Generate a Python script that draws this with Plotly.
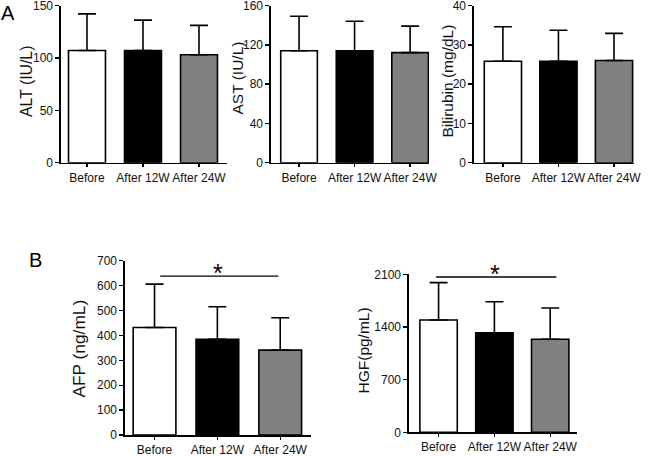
import plotly.graph_objects as go

FONT = "Liberation Sans, Arial, Helvetica, sans-serif"

categories = ["Before", "After 12W", "After 24W"]
bar_colors = ["#ffffff", "#000000", "#808080"]

alt_mean = [107, 107, 103]
alt_sd = [35, 29, 28]
ast_mean = [114, 114, 112]
ast_sd = [35, 30, 27]
bili_mean = [25.8, 25.8, 26.0]
bili_sd = [8.8, 7.9, 6.9]
afp_mean = [432, 384, 341]
afp_sd = [174, 131, 130]
hgf_mean = [1493, 1324, 1236]
hgf_sd = [496, 412, 416]

alt_ticks = [0, 50, 100, 150]
ast_ticks = [0, 40, 80, 120, 160]
bili_ticks = [0, 10, 20, 30, 40]
afp_ticks = [0, 100, 200, 300, 400, 500, 600, 700]
hgf_ticks = [0, 700, 1400, 2100]

# significance brackets: (x start, x end, y level)
afp_sig = (0.09, 1.97, 638)
hgf_sig = (-0.045, 2.11, 2064)

W, H = 650, 456


def px_x(a, b):
    return [a / W, b / W]


def px_y(bottom, top):
    return [1 - bottom / H, 1 - top / H]


panels = [
    dict(mean=alt_mean, sd=alt_sd, ticks=alt_ticks, title="ALT (IU/L)",
         xd=px_x(61, 227), yd=px_y(162.7, 5.5), xr=[-0.464, 2.5], bw=0.66,
         tx=26.5, ty=81.5, tsize=15.8),
    dict(mean=ast_mean, sd=ast_sd, ticks=ast_ticks, title="AST (IU/L)",
         xd=px_x(271, 429), yd=px_y(162.7, 5.5), xr=[-0.505, 2.34], bw=0.66,
         tx=237, ty=78.5, tsize=15.5),
    dict(mean=bili_mean, sd=bili_sd, ticks=bili_ticks, title="Bilirubin (mg/dL)",
         xd=px_x(474, 634), yd=px_y(162.7, 5.5), xr=[-0.52, 2.36], bw=0.67,
         tx=447, ty=81.5, tsize=15.5),
    dict(mean=afp_mean, sd=afp_sd, ticks=afp_ticks, title="AFP (ng/mL)",
         xd=px_x(125, 311), yd=px_y(435, 260.7), xr=[-0.47, 2.49], bw=0.68,
         tx=78.5, ty=349, tsize=17.3),
    dict(mean=hgf_mean, sd=hgf_sd, ticks=hgf_ticks, title="HGF(pg/mL)",
         xd=px_x(409, 577), yd=px_y(432.3, 274.3), xr=[-0.53, 2.48], bw=0.67,
         tx=363, ty=350.5, tsize=15.5),
]

fig = go.Figure()
annotations = []
shapes = []
xs = list(range(len(categories)))

for i, p in enumerate(panels):
    n = "" if i == 0 else str(i + 1)
    fig.add_trace(go.Bar(
        x=xs, y=p["mean"], width=p["bw"],
        marker=dict(color=bar_colors, line=dict(color="#000000", width=1.6)),
        error_y=dict(type="data", symmetric=False, array=p["sd"],
                     arrayminus=[0] * len(p["sd"]), color="#000000",
                     thickness=1.6, width=9),
        xaxis="x" + n, yaxis="y" + n, showlegend=False, hoverinfo="skip",
    ))
    common_axis = dict(showline=True, linecolor="#000000", linewidth=1.6,
                       showgrid=False, zeroline=False, ticks="outside",
                       tickcolor="#000000", tickwidth=1.4, automargin=False,
                       fixedrange=True, ticklabeloverflow="allow",
                       tickfont=dict(family=FONT, size=12, color="#111111"))
    fig.update_layout(**{
        "xaxis" + n: dict(domain=p["xd"], range=p["xr"], anchor="y" + n,
                          tickvals=xs, ticktext=categories, ticklen=3,
                          tickangle=0, **common_axis),
        "yaxis" + n: dict(domain=p["yd"], range=[0, p["ticks"][-1]],
                          anchor="x" + n, tickvals=p["ticks"], ticklen=4,
                          **common_axis),
    })
    annotations.append(dict(text=p["title"], x=p["tx"] / W, y=1 - p["ty"] / H,
                            xref="paper", yref="paper", textangle=-90,
                            showarrow=False, xanchor="center", yanchor="middle",
                            font=dict(family=FONT, size=p["tsize"], color="#111111")))

for sig, n in [(afp_sig, "4"), (hgf_sig, "5")]:
    x0, x1, yv = sig
    shapes.append(dict(type="line", xref="x" + n, yref="y" + n, x0=x0, x1=x1,
                       y0=yv, y1=yv, line=dict(color="#000000", width=1.4)))
    annotations.append(dict(text="*", x=(x0 + x1) / 2 - 0.02, y=yv, xref="x" + n,
                            yref="y" + n, showarrow=False, yanchor="middle",
                            yshift=3,
                            font=dict(family=FONT, size=25, color="#000000")))

annotations.append(dict(text="A", x=8 / W, y=1 - 12.5 / H, xref="paper", yref="paper",
                        showarrow=False, xanchor="center", yanchor="middle",
                        font=dict(family=FONT, size=20, color="#000000")))
annotations.append(dict(text="B", x=35 / W, y=1 - 259.5 / H, xref="paper", yref="paper",
                        showarrow=False, xanchor="center", yanchor="middle",
                        font=dict(family=FONT, size=20, color="#000000")))

fig.update_layout(width=W, height=H, margin=dict(l=0, r=0, t=0, b=0, autoexpand=False),
                  template="none",
                  paper_bgcolor="#ffffff", plot_bgcolor="#ffffff",
                  annotations=annotations, shapes=shapes, bargap=0)

fig.write_html("out.html", config={"displayModeBar": False, "staticPlot": True},
               post_script="document.body.style.margin='0';document.body.style.overflow='hidden';")
